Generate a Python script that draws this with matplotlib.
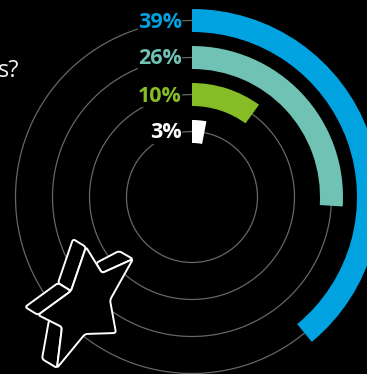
import numpy as np
import matplotlib
matplotlib.use('Agg')
import matplotlib.pyplot as plt
from matplotlib.patches import PathPatch
from matplotlib.path import Path

# share of answers, outermost ring first
values = [39, 26, 10, 3]
labels = ['39%', '26%', '10%', '3%']
colors = ['#00A3E0', '#6FC2B4', '#86BC25', '#FFFFFF']
label_colors = ['#00A3E0', '#6FC2B4', '#86BC25', '#FFFFFF']
radii = [176.5, 139.5, 102.5, 65.5]

W, H = 367, 374
CX, CY = 192, 197
RMAX = 200
RING = 23

plt.rcParams['font.family'] = ['Open Sans', 'DejaVu Sans']


def rounded_path(pts, rad=2.5):
    # closed outline with the corners softened by a small quadratic curve
    pts = np.array(pts, dtype=float)
    n = len(pts)
    verts, codes = [], []
    for i in range(n):
        p, prev, nxt = pts[i], pts[i - 1], pts[(i + 1) % n]
        a = p + (prev - p) / np.linalg.norm(prev - p) * rad
        b = p + (nxt - p) / np.linalg.norm(nxt - p) * rad
        verts += [a, p, b]
        codes += [Path.MOVETO if i == 0 else Path.LINETO, Path.CURVE3, Path.CURVE3]
    verts.append(verts[0])
    codes.append(Path.CLOSEPOLY)
    return Path(verts, codes)


fig = plt.figure(figsize=(W / 100, H / 100), dpi=100, facecolor='black')

# polar axes centred on the rings, partly running off the figure
ax = fig.add_axes([(CX - RMAX) / W, (H - CY - RMAX) / H, 2 * RMAX / W, 2 * RMAX / H],
                  projection='polar')
ax.set_theta_zero_location('N')
ax.set_theta_direction(-1)
ax.set_ylim(0, RMAX)
ax.axis('off')

circle_theta = np.linspace(0, 2 * np.pi, 361)
for r in radii:
    ax.plot(circle_theta, np.full_like(circle_theta, r), color='#666666', lw=0.9, zorder=1)

for v, r, c in zip(values, radii, colors):
    ax.bar(0, RING, width=np.deg2rad(v * 3.6), bottom=r - RING / 2, align='edge',
           color=c, linewidth=0, zorder=2)

for lab, r, c in zip(labels, radii, label_colors):
    ax.annotate(lab, xy=(0, r), xytext=(-10, 1), textcoords='offset pixels',
                ha='right', va='center_baseline', color=c, fontsize=15.5, fontweight='bold',
                bbox=dict(facecolor='black', edgecolor='none', pad=0), zorder=3)

# overlay in pixel coordinates for the star and the cut-off heading
over = fig.add_axes([0, 0, 1, 1])
over.set_xlim(0, W)
over.set_ylim(H, 0)
over.axis('off')

over.text(19, 77, 's?', ha='right', va='baseline', color='#F2F2F2', fontsize=17)

# star outline, back faces first so the front covers them
star_front = [(86, 247), (102, 273), (133, 259), (110, 300), (116, 333), (85, 334),
              (57, 368), (62, 327), (38, 315), (71, 291)]
star_top = [(86, 247), (73, 239), (58, 283), (71, 291)]
star_left = [(58, 283), (25, 307), (38, 315), (71, 291)]
star_bottom = [(49, 320), (42, 359), (57, 368), (62, 327)]
star_right = [(96, 263), (119, 251), (133, 259), (102, 273)]

for pts in [star_top, star_left, star_bottom, star_right, star_front]:
    over.add_patch(PathPatch(rounded_path(pts), facecolor='black', edgecolor='white',
                             lw=1.4, joinstyle='round', zorder=4))

fig.savefig('out.png', dpi=100, facecolor='black')
